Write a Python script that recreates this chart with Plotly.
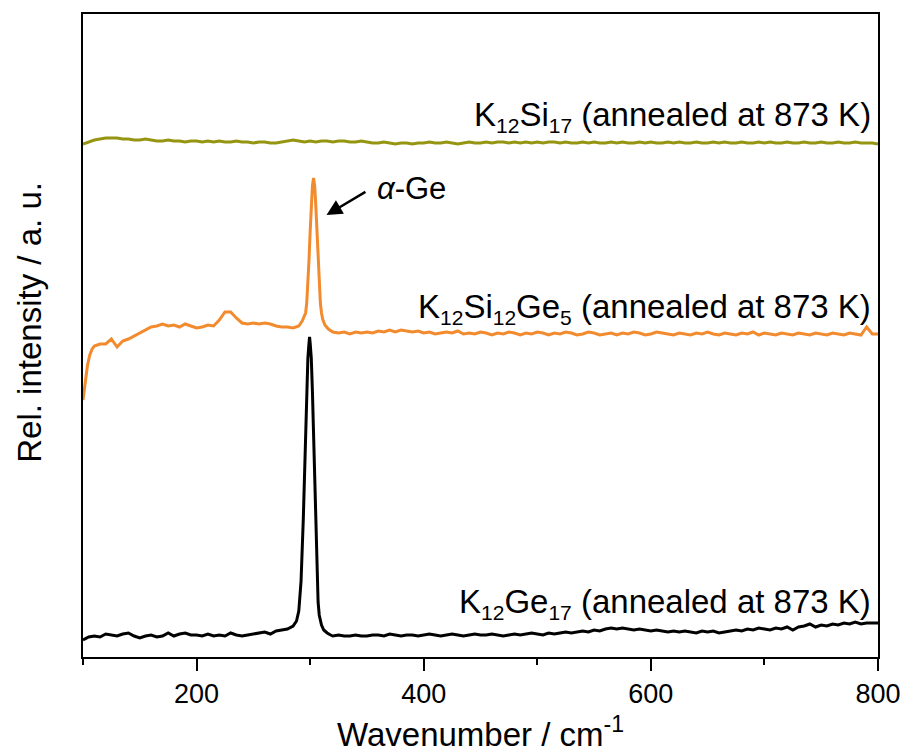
import plotly.graph_objects as go

# ---- Raman spectra (relative intensity, arbitrary offset units) ----
# K12Ge17: low-wavenumber baseline, alpha-Ge peak, high-wavenumber baseline
ge_x_low = list(range(100, 290, 5))
ge_y_low = [17, 20, 21, 20, 23, 22, 21, 23, 24, 21,
            19, 21, 22, 20, 21, 24, 21, 23, 24, 22,
            22, 21, 23, 21, 22, 21, 24, 22, 21, 22,
            23, 24, 25, 23, 26, 27, 28, 31]
ge_x_peak = [288, 290, 292, 294, 295, 296, 297, 298, 299, 299.5, 300, 301,
             302, 303, 304, 305, 306, 307, 308, 310, 312, 315, 318]
ge_y_peak = [36, 46, 76, 139, 180, 225, 266, 299, 314, 320, 314, 299,
             266, 225, 180, 139, 80, 55, 42, 32, 27, 24, 22]
ge_x_high = list(range(320, 805, 5))
ge_y_high = [21, 22, 21, 21, 22, 21, 21, 22, 22, 21,
             23, 22, 21, 22, 22, 21, 22, 23, 22, 21,
             22, 23, 22, 21, 22, 23, 22, 22, 23, 22,
             21, 22, 23, 22, 23, 24, 23, 22, 24, 23,
             24, 25, 24, 25, 26, 25, 27, 26, 28, 29,
             28, 29, 28, 27, 28, 27, 26, 27, 26, 25,
             26, 25, 26, 25, 24, 26, 25, 26, 24, 25,
             26, 27, 26, 28, 27, 29, 28, 27, 29, 28,
             30, 27, 30, 31, 33, 30, 32, 31, 33, 32,
             34, 33, 35, 33, 34, 34, 34]

# K12Si12Ge5
sg_x_low = [100, 102, 104, 106, 108, 110] + list(range(115, 295, 5))
sg_y_low = [257, 275, 292, 302, 308, 311,
            313, 313, 318, 310, 316, 318, 321, 324, 327, 330,
            331, 333, 331, 332, 330, 333, 331, 329, 330, 332,
            331, 337, 345, 345, 339, 334, 333, 334, 333, 334,
            333, 331, 330, 330, 329, 331]
sg_x_peak = [293, 295, 296, 297, 298, 299, 300, 301, 302, 303,
             304, 305, 306, 307, 308, 309, 310, 311, 313, 316]
sg_y_peak = [336, 342, 344, 354, 372, 397, 425, 451, 471, 479,
             471, 451, 425, 397, 372, 354, 344, 338, 332, 328]
sg_x_high = list(range(320, 805, 5))
sg_y_high = [325, 324, 325, 323, 325, 324, 325, 324, 326, 325,
             327, 325, 327, 326, 325, 326, 324, 325, 323, 324,
             325, 324, 326, 323, 324, 323, 325, 324, 322, 324,
             323, 325, 324, 322, 324, 323, 325, 324, 322, 324,
             323, 325, 324, 322, 323, 325, 324, 322, 323, 324,
             322, 324, 323, 325, 324, 322, 323, 325, 324, 323,
             322, 324, 323, 322, 324, 323, 325, 323, 322, 324,
             323, 322, 324, 323, 325, 322, 324, 323, 322, 324,
             323, 322, 324, 323, 322, 324, 323, 322, 324, 323,
             322, 324, 323, 322, 330, 323, 323]

# K12Si17
si_x = list(range(100, 805, 5))
si_y = [513, 515, 517, 518, 519, 519, 519, 518, 518, 517,
        517, 518, 517, 516, 516, 517, 516, 516, 515, 516,
        516, 515, 516, 515, 516, 515, 515, 516, 515, 515,
        514, 515, 515, 514, 514, 515, 516, 517, 516, 515,
        516, 515, 516, 516, 515, 516, 516, 515, 515, 516,
        515, 514, 514, 515, 514, 513, 514, 514, 513, 514,
        514, 515, 514, 514, 515, 514, 513, 514, 515, 514,
        514, 515, 514, 515, 515, 514, 515, 514, 515, 514,
        515, 514, 515, 515, 514, 515, 514, 514, 515, 514,
        515, 514, 514, 515, 514, 515, 514, 514, 515, 514,
        515, 514, 514, 515, 514, 515, 514, 514, 515, 514,
        514, 515, 514, 515, 514, 514, 515, 514, 514, 515,
        514, 515, 514, 514, 515, 514, 514, 515, 514, 514,
        515, 514, 514, 515, 514, 514, 515, 514, 514, 514,
        513]


def sub(s):
    """Small subscript used in the formula labels."""
    return '<sub><span style="font-size:21px">' + s + "</span></sub>"


# Labels
labels = ["K" + sub("12") + "Si" + sub("17") + " (annealed at 873 K)",
          "K" + sub("12") + "Si" + sub("12") + "Ge" + sub("5") + " (annealed at 873 K)",
          "K" + sub("12") + "Ge" + sub("17") + " (annealed at 873 K)"]
label_y = [541, 349, 54]
peak_label = "<i>α</i>-Ge"
x_title = "Wavenumber / cm<sup>-1</sup>"
y_title = "Rel. intensity / a. u."
tick_vals = [200, 400, 600, 800]

FONT = "Liberation Sans, Arial, sans-serif"
BLACK = "#000000"
ORANGE = "#F28A2E"
OLIVE = "#959512"

fig = go.Figure()
fig.add_trace(go.Scatter(x=ge_x_low + ge_x_peak + ge_x_high,
                         y=ge_y_low + ge_y_peak + ge_y_high,
                         mode="lines", line=dict(color=BLACK, width=3),
                         showlegend=False))
fig.add_trace(go.Scatter(x=sg_x_low + sg_x_peak + sg_x_high,
                         y=sg_y_low + sg_y_peak + sg_y_high,
                         mode="lines", line=dict(color=ORANGE, width=3),
                         showlegend=False))
fig.add_trace(go.Scatter(x=si_x, y=si_y,
                         mode="lines", line=dict(color=OLIVE, width=3),
                         showlegend=False))

annotations = []
for txt, yv in zip(labels, label_y):
    annotations.append(dict(x=0.9937, xref="paper", y=yv, yref="y",
                            text=txt, showarrow=False, xanchor="right",
                            yanchor="middle",
                            font=dict(family=FONT, size=33, color=BLACK)))
# peak marker arrow and its label
annotations.append(dict(x=314.4, y=442, ax=350, ay=466, axref="x", ayref="y",
                        xref="x", yref="y", text="", showarrow=True,
                        arrowhead=2, arrowsize=1.3, arrowwidth=2.4,
                        arrowcolor=BLACK))
annotations.append(dict(x=389, y=469, xref="x", yref="y", text=peak_label,
                        showarrow=False, xanchor="center", yanchor="middle",
                        font=dict(family=FONT, size=31, color=BLACK)))
# axis titles
annotations.append(dict(x=-0.067, y=0.521, xref="paper", yref="paper",
                        text=y_title, textangle=-90, showarrow=False,
                        xanchor="center", yanchor="middle",
                        font=dict(family=FONT, size=33, color=BLACK)))
annotations.append(dict(x=0.5, y=-0.153, xref="paper", yref="paper",
                        text=x_title, showarrow=False,
                        xanchor="center", yanchor="bottom",
                        font=dict(family=FONT, size=33, color=BLACK)))

fig.update_layout(
    width=903, height=756,
    margin=dict(l=83, r=25, t=14, b=99, autoexpand=False),
    paper_bgcolor="white", plot_bgcolor="white",
    font=dict(family=FONT, color=BLACK),
    annotations=annotations,
    xaxis=dict(range=[100, 800], tickvals=tick_vals, automargin=False,
               ticks="outside", ticklen=12, tickwidth=2, tickcolor=BLACK,
               tickfont=dict(family=FONT, size=27, color=BLACK),
               minor=dict(dtick=100, tick0=0, ticks="outside", ticklen=6,
                          tickwidth=2, tickcolor=BLACK),
               showline=True, linecolor=BLACK, linewidth=2, mirror=True,
               showgrid=False, zeroline=False),
    yaxis=dict(range=[0, 643], showticklabels=False, ticks="", automargin=False,
               showline=True, linecolor=BLACK, linewidth=2, mirror=True,
               showgrid=False, zeroline=False),
)

fig.write_html("out.html")
